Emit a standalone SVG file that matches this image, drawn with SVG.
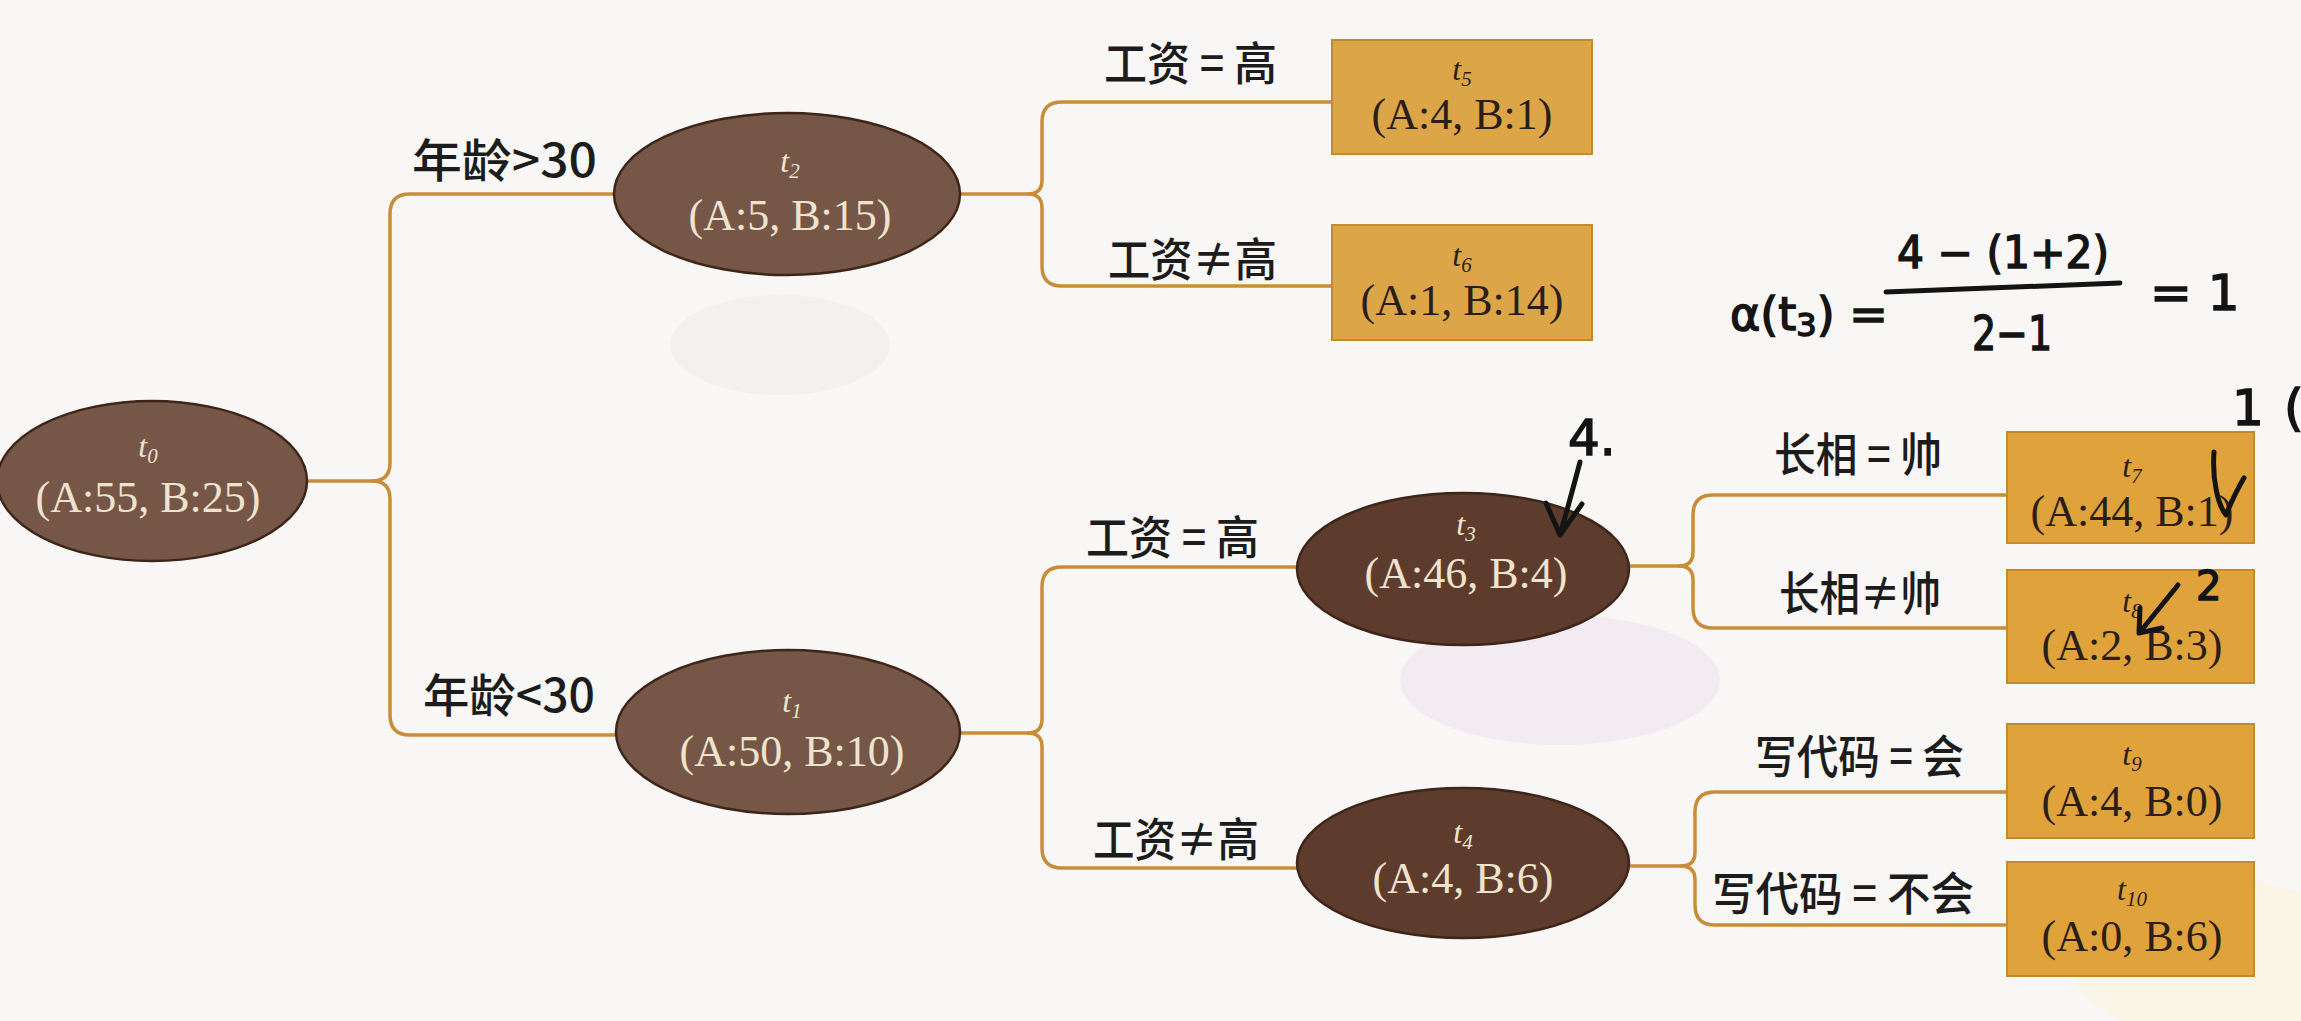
<svg xmlns="http://www.w3.org/2000/svg" width="2301" height="1021" viewBox="0 0 2301 1021">
<defs>
<style>
.bg{fill:#f8f7f5}
.conn path{fill:none;stroke:#c98d3a;stroke-width:3.5;stroke-linecap:round;stroke-linejoin:round}
.ell{stroke:#3e2519;stroke-width:2.5}
.ellA{fill:#765747}
.ellB{fill:#5e3c2d}
.leaf{stroke:#c48a2c;stroke-width:2}
.leafA{fill:#dca648}
.leafB{fill:#e0a23a}
.nt{font-family:"Liberation Serif","Times New Roman",serif;font-size:44px;text-anchor:middle}
.tn{font-family:"Liberation Serif","Times New Roman",serif;font-size:32px;font-style:italic;text-anchor:middle}
.lt{fill:#efe3d0}
.dk{fill:#2a1f16}
.lbl{font-family:"Noto Sans CJK SC","Noto Sans",sans-serif;font-size:46px;font-weight:500;fill:#1c1c1c;dominant-baseline:central}
.hw{font-family:"DejaVu Sans","Liberation Sans",sans-serif;fill:#141414;stroke:#141414;stroke-width:1.5}
.hwl{fill:none;stroke:#141414;stroke-width:5;stroke-linecap:round;stroke-linejoin:round}
</style>
</defs>
<rect class="bg" x="0" y="0" width="2301" height="1021"/>
<ellipse cx="780" cy="345" rx="110" ry="50" fill="#f1e6ec" opacity="0.45"/>
<ellipse cx="1560" cy="680" rx="160" ry="65" fill="#ece2f0" opacity="0.5"/>
<ellipse cx="2220" cy="960" rx="150" ry="80" fill="#fbf3d8" opacity="0.5"/>

<g id="connectors" class="conn">
<path d="M307,481 H372 Q390,481 390,463 V214 Q390,194 410,194 H613"/>
<path d="M372,481 Q390,481 390,499 V715 Q390,735 410,735 H617"/>
<path d="M960,194 H1028 Q1042,194 1042,180 V122 Q1042,102 1062,102 H1332"/>
<path d="M1028,194 Q1042,194 1042,208 V266 Q1042,286 1062,286 H1332"/>
<path d="M960,733 H1028 Q1042,733 1042,719 V587 Q1042,567 1062,567 H1297"/>
<path d="M1028,733 Q1042,733 1042,747 V848 Q1042,868 1062,868 H1297"/>
<path d="M1628,566 H1679 Q1693,566 1693,552 V515 Q1693,495 1713,495 H2007"/>
<path d="M1679,566 Q1693,566 1693,580 V608 Q1693,628 1713,628 H2007"/>
<path d="M1628,866 H1681 Q1695,866 1695,852 V812 Q1695,792 1715,792 H2007"/>
<path d="M1681,866 Q1695,866 1695,880 V905 Q1695,925 1715,925 H2007"/>
</g>

<g id="t0">
<ellipse class="ell ellA" cx="152" cy="481" rx="155" ry="80"/>
<text class="tn lt" x="148" y="457">t<tspan font-size="21" dy="6">0</tspan></text>
<text class="nt lt" x="148" y="512">(A:55, B:25)</text>
</g>
<g id="t2">
<ellipse class="ell ellA" cx="787" cy="194" rx="173" ry="81"/>
<text class="tn lt" x="790" y="172">t<tspan font-size="21" dy="6">2</tspan></text>
<text class="nt lt" x="790" y="230">(A:5, B:15)</text>
</g>
<g id="t1">
<ellipse class="ell ellA" cx="788" cy="732" rx="172" ry="82"/>
<text class="tn lt" x="792" y="712">t<tspan font-size="21" dy="6">1</tspan></text>
<text class="nt lt" x="792" y="766">(A:50, B:10)</text>
</g>
<g id="t3">
<ellipse class="ell ellB" cx="1463" cy="569" rx="166" ry="76"/>
<text class="tn lt" x="1466" y="535">t<tspan font-size="21" dy="6">3</tspan></text>
<text class="nt lt" x="1466" y="588">(A:46, B:4)</text>
</g>
<g id="t4">
<ellipse class="ell ellB" cx="1463" cy="863" rx="166" ry="75"/>
<text class="tn lt" x="1463" y="843">t<tspan font-size="21" dy="6">4</tspan></text>
<text class="nt lt" x="1463" y="893">(A:4, B:6)</text>
</g>
<g id="t5">
<rect class="leaf leafA" x="1332" y="40" width="260" height="114"/>
<text class="tn dk" x="1462" y="80">t<tspan font-size="21" dy="6">5</tspan></text>
<text class="nt dk" x="1462" y="129">(A:4, B:1)</text>
</g>
<g id="t6">
<rect class="leaf leafA" x="1332" y="225" width="260" height="115"/>
<text class="tn dk" x="1462" y="266">t<tspan font-size="21" dy="6">6</tspan></text>
<text class="nt dk" x="1462" y="315">(A:1, B:14)</text>
</g>
<g id="t7">
<rect class="leaf leafB" x="2007" y="432" width="247" height="111"/>
<text class="tn dk" x="2132" y="477">t<tspan font-size="21" dy="6">7</tspan></text>
<text class="nt dk" x="2132" y="526">(A:44, B:1)</text>
</g>
<g id="t8">
<rect class="leaf leafB" x="2007" y="570" width="247" height="113"/>
<text class="tn dk" x="2132" y="612">t<tspan font-size="21" dy="6">8</tspan></text>
<text class="nt dk" x="2132" y="660">(A:2, B:3)</text>
</g>
<g id="t9">
<rect class="leaf leafB" x="2007" y="724" width="247" height="114"/>
<text class="tn dk" x="2132" y="765">t<tspan font-size="21" dy="6">9</tspan></text>
<text class="nt dk" x="2132" y="816">(A:4, B:0)</text>
</g>
<g id="t10">
<rect class="leaf leafB" x="2007" y="862" width="247" height="114"/>
<text class="tn dk" x="2132" y="900">t<tspan font-size="21" dy="6">10</tspan></text>
<text class="nt dk" x="2132" y="951">(A:0, B:6)</text>
</g>

<g id="labels">
<text class="lbl" x="412" y="157" textLength="185" lengthAdjust="spacingAndGlyphs">年龄&gt;30</text>
<text class="lbl" x="423" y="692" textLength="172" lengthAdjust="spacingAndGlyphs">年龄&lt;30</text>
<text class="lbl" x="1104" y="60" textLength="173" lengthAdjust="spacingAndGlyphs">工资 = 高</text>
<text class="lbl" x="1108" y="256" textLength="169" lengthAdjust="spacingAndGlyphs">工资≠高</text>
<text class="lbl" x="1086" y="534" textLength="173" lengthAdjust="spacingAndGlyphs">工资 = 高</text>
<text class="lbl" x="1093" y="836" textLength="166" lengthAdjust="spacingAndGlyphs">工资≠高</text>
<text class="lbl" x="1774" y="451" textLength="168" lengthAdjust="spacingAndGlyphs">长相 = 帅</text>
<text class="lbl" x="1779" y="590" textLength="162" lengthAdjust="spacingAndGlyphs">长相≠帅</text>
<text class="lbl" x="1755" y="753" textLength="209" lengthAdjust="spacingAndGlyphs">写代码 = 会</text>
<text class="lbl" x="1712" y="890" textLength="262" lengthAdjust="spacingAndGlyphs">写代码 = 不会</text>
</g>

<g id="annotations">
<text class="hw" x="1730" y="330" font-size="46">α(t<tspan font-size="32" dy="6">3</tspan><tspan dy="-6">) =</tspan></text>
<text class="hw" x="1897" y="268" font-size="44" textLength="212" lengthAdjust="spacingAndGlyphs">4 − (1+2)</text>
<path class="hwl" d="M1886,292 L2120,283"/>
<text class="hw" x="1972" y="350" font-size="48" textLength="80" lengthAdjust="spacingAndGlyphs">2−1</text>
<text class="hw" x="2150" y="310" font-size="50">= 1</text>
<text class="hw" x="1568" y="455" font-size="50">4.</text>
<path class="hwl" d="M1580,462 Q1570,500 1560,535 M1546,503 L1560,535 L1582,504"/>
<text class="hw" x="2232" y="425" font-size="50">1</text>
<text class="hw" x="2284" y="425" font-size="50">(</text>
<path class="hwl" d="M2214,452 C2212,480 2218,505 2226,515 C2232,500 2238,488 2244,478"/>
<text class="hw" x="2196" y="600" font-size="40">2</text>
<path class="hwl" d="M2178,585 L2140,632 M2140,608 L2139,633 L2162,628"/>
</g>
</svg>
